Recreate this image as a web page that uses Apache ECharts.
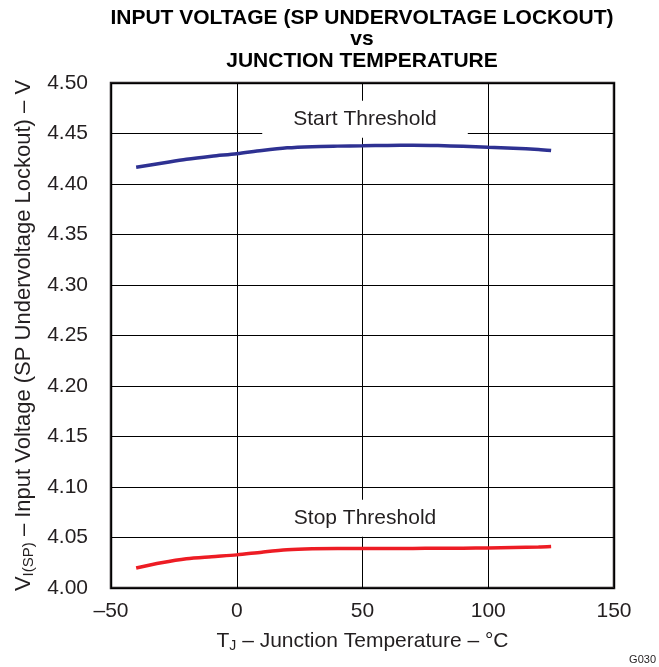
<!DOCTYPE html>
<html>
<head>
<meta charset="utf-8">
<script src="https://cdn.jsdelivr.net/npm/echarts@6/dist/echarts.min.js"></script>
<style>
html,body{margin:0;padding:0;background:#fff;}
#chart{width:659px;height:667px;}
</style>
</head>
<body>
<div id="chart"></div>
<script>
// Junction temperature (°C)
const temps = [-40, -30, -20, -10, 0, 10, 20, 30, 40, 50, 60, 70, 80, 90, 100, 110, 120, 125];
// Start threshold (V)
const startThreshold = [4.4165, 4.4205, 4.4245, 4.4275, 4.4300, 4.4332, 4.4358, 4.4370, 4.4375, 4.4378, 4.4382, 4.4383, 4.4380, 4.4373, 4.4364, 4.4355, 4.4342, 4.4332];
// Stop threshold (V)
const stopThreshold = [4.0198, 4.0250, 4.0290, 4.0310, 4.0328, 4.0355, 4.0378, 4.0388, 4.0390, 4.0390, 4.0390, 4.0392, 4.0393, 4.0394, 4.0397, 4.0401, 4.0405, 4.0410];
// Axis ticks
const xTicks = [-50, 0, 50, 100, 150];
const yTicks = ['4.00', '4.05', '4.10', '4.15', '4.20', '4.25', '4.30', '4.35', '4.40', '4.45', '4.50'];
// Curve annotations
const annoText = ['Start Threshold', 'Stop Threshold'];
const annoX = [51, 51];
const annoY = [4.464, 4.069];

const FONT = '"Liberation Sans", Arial, Helvetica, sans-serif';
const TXT = '#231F20';

function pts(ys) { return temps.map((t, i) => [t, ys[i]]); }

function anno(i) {
  return {
    symbol: 'rect',
    symbolSize: 1,
    itemStyle: { color: 'rgba(0,0,0,0)' },
    label: {
      show: true, position: 'inside', formatter: annoText[i],
      backgroundColor: '#fff', padding: [8, 31], fontSize: 21,
      fontFamily: FONT, color: TXT
    },
    data: [{ coord: [annoX[i], annoY[i]] }]
  };
}

const chart = echarts.init(document.getElementById('chart'), null, { renderer: 'canvas' });
chart.setOption({
  animation: false,
  backgroundColor: '#fff',
  title: {
    text: 'INPUT VOLTAGE (SP UNDERVOLTAGE LOCKOUT)\nvs\nJUNCTION TEMPERATURE',
    left: 357, top: 2, textAlign: 'center',
    textStyle: { fontSize: 21, fontWeight: 'bold', lineHeight: 21.5, fontFamily: FONT, color: '#000' }
  },
  grid: {
    left: 111, right: 45, top: 83, bottom: 79,
    show: true, borderColor: TXT, borderWidth: 2.5, backgroundColor: 'transparent'
  },
  xAxis: {
    type: 'value',
    min: xTicks[0], max: xTicks[xTicks.length - 1], interval: xTicks[1] - xTicks[0],
    axisLine: { show: false }, axisTick: { show: false },
    splitLine: { show: true, lineStyle: { color: '#000', width: 1 } },
    axisLabel: { margin: 13, fontSize: 21, fontFamily: FONT, color: TXT,
      formatter: v => (v < 0 ? '\u2013' + Math.abs(v) : String(v)) },
    name: '{v|T}{s|J}{v| \u2013 Junction Temperature \u2013 \u00B0C}',
    nameLocation: 'middle', nameGap: 41,
    nameTextStyle: {
      rich: {
        v: { fontSize: 21, fontFamily: FONT, color: TXT, lineHeight: 24 },
        s: { fontSize: 14, fontFamily: FONT, color: TXT, lineHeight: 14, padding: [10, 0, 0, 0] }
      }
    }
  },
  yAxis: {
    type: 'value',
    min: parseFloat(yTicks[0]), max: parseFloat(yTicks[yTicks.length - 1]),
    interval: 0.05,
    axisLine: { show: false }, axisTick: { show: false },
    splitLine: { show: true, lineStyle: { color: '#000', width: 1 } },
    axisLabel: { margin: 23, fontSize: 21, fontFamily: FONT, color: TXT,
      formatter: v => yTicks[Math.round((v - parseFloat(yTicks[0])) / 0.05)] },
    name: '{v|V}{s|I(SP)}{v| \u2013 Input Voltage (SP Undervoltage Lockout) \u2013 V}',
    nameLocation: 'middle', nameGap: 74,
    nameTextStyle: {
      rich: {
        v: { fontSize: 22, fontFamily: FONT, color: TXT, lineHeight: 25 },
        s: { fontSize: 15, fontFamily: FONT, color: TXT, lineHeight: 15, padding: [10, 0, 0, 0] }
      }
    }
  },
  graphic: [{
    type: 'text', right: 3, bottom: 2,
    style: { text: 'G030', fontSize: 11, fontFamily: FONT, fill: TXT }
  }],
  series: [
    {
      name: 'Start Threshold', type: 'line', data: pts(startThreshold),
      showSymbol: false, smooth: 0.3,
      lineStyle: { color: '#2E3192', width: 3.5 },
      markPoint: anno(0)
    },
    {
      name: 'Stop Threshold', type: 'line', data: pts(stopThreshold),
      showSymbol: false, smooth: 0.3,
      lineStyle: { color: '#ED1C24', width: 3.5 },
      markPoint: anno(1)
    }
  ]
});
</script>
</body>
</html>
